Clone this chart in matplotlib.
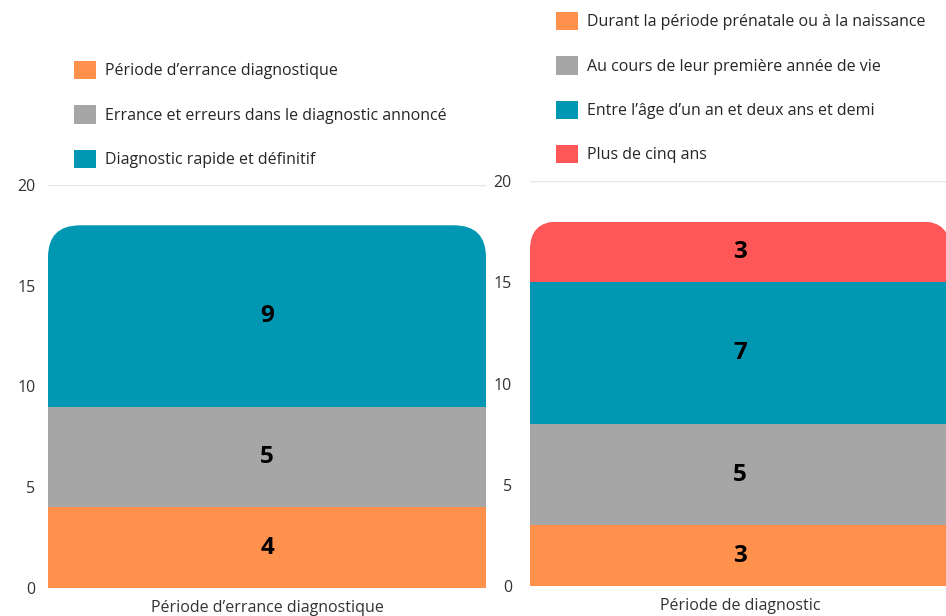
import matplotlib.pyplot as plt
from matplotlib.patches import FancyBboxPatch
import numpy as np

plt.rcParams['font.family'] = ['Open Sans', 'DejaVu Sans']

# left chart
left_cat = ['Période d’errance diagnostique']
left_labels = ['Période d’errance diagnostique',
               'Errance et erreurs dans le diagnostic annoncé',
               'Diagnostic rapide et définitif']
left_vals = [4, 5, 9]
left_colors = ['#FF914D', '#A6A6A6', '#0097B2']

# right chart
right_cat = ['Période de diagnostic']
right_labels = ['Durant la période prénatale ou à la naissance',
                'Au cours de leur première année de vie',
                'Entre l’âge d’un an et deux ans et demi',
                'Plus de cinq ans']
right_vals = [3, 5, 7, 3]
right_colors = ['#FF914D', '#A6A6A6', '#0097B2', '#FF5757']

yticks = [0, 5, 10, 15, 20]

W, H = 946, 616
fig = plt.figure(figsize=(W / 100, H / 100), dpi=100)


def px_axes(x0, x1, ytop, ybot):
    return fig.add_axes([x0 / W, 1 - ybot / H, (x1 - x0) / W, (ybot - ytop) / H])


def stacked(ax, cat, vals, colors, labels, radius, axw, axh, pad):
    ax.set_xlim(-0.5, 0.5)
    ax.set_ylim(0, 20)
    total = sum(vals)
    # rounded clip shape for the top of the bar
    a = (axw / 1.0) / (axh / 20.0)
    rx = radius / axw
    clip = FancyBboxPatch((-0.5, -5), 1.0, total + 5,
                          boxstyle=f'round,pad=0,rounding_size={rx}',
                          mutation_aspect=a, transform=ax.transData,
                          facecolor='none', edgecolor='none')
    ax.add_patch(clip)
    bottom = 0
    handles = []
    for v, c, lab in zip(vals, colors, labels):
        b = ax.bar(cat, [v], bottom=bottom, width=1.0, color=c, label=lab, zorder=2)
        for r in b:
            r.set_clip_path(clip)
        ax.text(0, bottom + v / 2, str(v), ha='center', va='center',
                fontsize=17.5, fontweight='bold', color='black', zorder=3)
        handles.append(b)
        bottom += v
    ax.set_yticks(yticks)
    ax.grid(axis='y', color='#E6E6E6', linewidth=1, zorder=0)
    ax.set_axisbelow(True)
    for s in ax.spines.values():
        s.set_visible(False)
    ax.tick_params(axis='y', length=0, pad=pad, labelsize=11.5, labelcolor='#333333')
    ax.tick_params(axis='x', length=0, pad=9, labelsize=11.5, labelcolor='#333333')
    return handles


ax1 = px_axes(48, 486, 185, 588)
h1 = stacked(ax1, left_cat, left_vals, left_colors, left_labels, 32, 438, 403, 9)
ax2 = px_axes(530, 950, 181, 586)
h2 = stacked(ax2, right_cat, right_vals, right_colors, right_labels, 28, 420, 405, 13)

leg_kw = dict(frameon=False, loc='upper left', borderpad=0, borderaxespad=0,
              fontsize=11.5, handlelength=1.38, handleheight=1.38,
              labelspacing=1.62, handletextpad=0.55, labelcolor='#262626')
fig.legend(handles=h1, labels=left_labels,
           bbox_to_anchor=(74 / W, 1 - 61 / H), **leg_kw)
fig.legend(handles=h2, labels=right_labels,
           bbox_to_anchor=(556 / W, 1 - 12 / H), **leg_kw)

fig.savefig('out.png', dpi=100)
